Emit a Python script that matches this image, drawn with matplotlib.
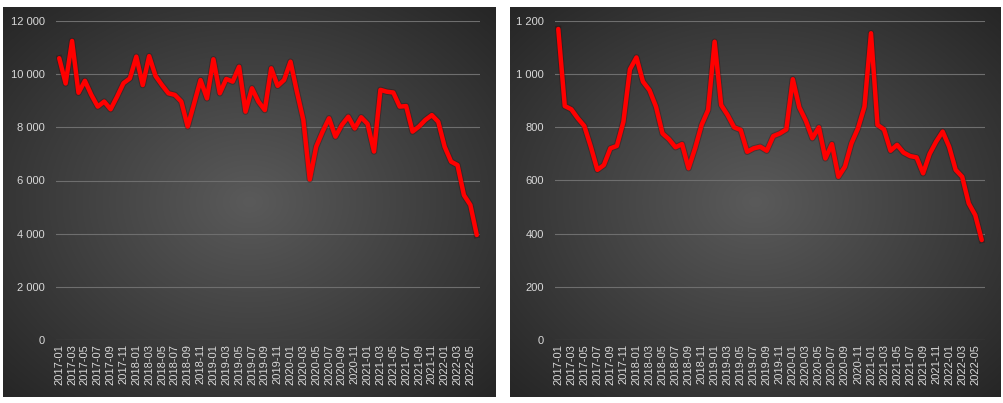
import numpy as np
import matplotlib
matplotlib.use("Agg")
import matplotlib.pyplot as plt
from matplotlib.ticker import FuncFormatter

plt.rcParams['font.family'] = ['Liberation Sans', 'DejaVu Sans']

years = [2017, 2018, 2019, 2020, 2021, 2022]
months = [f"{y}-{m:02d}" for y in years for m in range(1, 13)][:66]

left_values = [10600, 9650, 11250, 9300, 9750, 9220, 8780, 8970, 8680, 9150, 9660, 9840,
               10660, 9590, 10680, 9930, 9590, 9280, 9220, 8970, 8030, 8900, 9780, 9090,
               10560, 9280, 9820, 9720, 10280, 8590, 9470, 8970, 8650, 10220, 9560, 9780,
               10470, 9340, 8280, 6040, 7270, 7840, 8340, 7650, 8090, 8400, 7960, 8380,
               8130, 7090, 9410, 9340, 9310, 8780, 8800, 7840, 8030, 8280, 8460, 8210,
               7270, 6710, 6580, 5450, 5080, 3950]

right_values = [1170, 880, 868, 834, 805, 727, 640, 658, 721, 730, 821, 1018,
                1063, 972, 940, 878, 777, 755, 725, 737, 646, 721, 809, 865,
                1122, 884, 846, 800, 790, 708, 721, 727, 712, 767, 777, 792,
                981, 875, 825, 759, 800, 683, 737, 614, 652, 740, 796, 878,
                1154, 809, 792, 712, 734, 705, 692, 687, 627, 700, 746, 784,
                727, 640, 614, 514, 470, 376]

left_ticks = [0, 2000, 4000, 6000, 8000, 10000, 12000]
right_ticks = [0, 200, 400, 600, 800, 1000, 1200]

W, H = 1004, 403
fig = plt.figure(figsize=(W / 100, H / 100), dpi=100)
fig.patch.set_facecolor('white')


def gradient_bg(x0, y0, x1, y1):
    ax = fig.add_axes([x0 / W, 1 - y1 / H, (x1 - x0) / W, (y1 - y0) / H])
    ny, nx = 200, 250
    yy, xx = np.mgrid[-1:1:ny * 1j, -1:1:nx * 1j]
    r = np.sqrt(xx ** 2 + yy ** 2) / np.sqrt(2)
    c0 = np.array([0x5a, 0x5a, 0x5a]) / 255
    c1 = np.array([0x26, 0x26, 0x26]) / 255
    t = np.clip(r, 0, 1)[..., None]
    img = c0 * (1 - t) + c1 * t
    ax.imshow(img, aspect='auto', extent=[0, 1, 0, 1], interpolation='bilinear')
    ax.set_axis_off()
    return ax


def fmt(v, pos):
    return f"{int(v):,}".replace(",", " ")


def panel(bg, plot, values, ticks, top):
    gradient_bg(*bg)
    x0, y0, x1, y1 = plot
    ax = fig.add_axes([x0 / W, 1 - y1 / H, (x1 - x0) / W, (y1 - y0) / H])
    ax.set_facecolor('none')
    x = np.arange(len(values))
    ax.plot(x, values, color='#300000', lw=4.6, alpha=0.3, solid_joinstyle='round', zorder=2)
    ax.plot(x, values, color='#ff0000', lw=3.2, solid_joinstyle='round', solid_capstyle='round', zorder=3)
    ax.set_xlim(-0.5, len(values) - 0.5)
    ax.set_ylim(0, top)
    ax.set_yticks(ticks)
    ax.yaxis.set_major_formatter(FuncFormatter(fmt))
    ax.set_xticks(x[::2])
    ax.set_xticklabels(months[::2], rotation=90)
    ax.grid(axis='y', color='#6e6e6e', lw=0.8)
    ax.set_axisbelow(True)
    for s in ax.spines.values():
        s.set_visible(False)
    ax.tick_params(axis='both', length=0, colors='#d9d9d9', labelsize=8)
    ax.tick_params(axis='y', pad=8)
    ax.tick_params(axis='x', pad=3)
    return ax


panel((3, 7, 496, 397), (56, 21, 480, 340), left_values, left_ticks, 12000)
panel((510, 7, 1001, 397), (555, 21, 985, 340), right_values, right_ticks, 1200)

fig.savefig('out.png', dpi=100, facecolor='white')
